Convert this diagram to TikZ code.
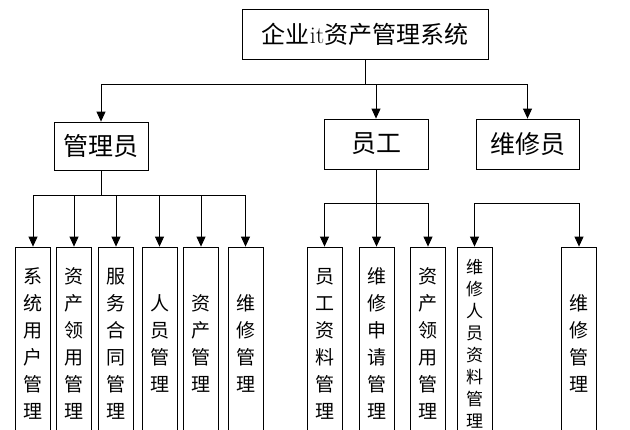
\documentclass[tikz,border=0pt]{standalone}
\usepackage{fontspec}
\newfontfamily\cjk{Noto Sans CJK SC}
\usetikzlibrary{arrows.meta}

\begin{document}
\begin{tikzpicture}[x=1pt, y=-1pt, >={Triangle[width=9pt,length=10pt]},
  box/.style={draw, line width=0.8pt, inner sep=0pt, font=\cjk},
  leaf/.style={box, minimum width=35pt, minimum height=193pt, align=center,
    font=\cjk\fontsize{19}{27}\selectfont},
  link/.style={line width=0.8pt}]
  \useasboundingbox (0,0) rectangle (630,429);
  \clip (0,0) rectangle (630,429);

  % top level
  \node[box, minimum width=246pt, minimum height=50pt, font=\cjk\fontsize{24}{28}\selectfont]
    (sys) at (365,34) {企业{\rmfamily it}资产管理系统};

  % roles
  \node[box, minimum width=94pt, minimum height=48pt, font=\cjk\fontsize{25}{28}\selectfont]
    (admin) at (101,146) {管理员};
  \node[box, minimum width=104pt, minimum height=50pt, font=\cjk\fontsize{25}{28}\selectfont]
    (staff) at (376,144) {员工};
  \node[box, minimum width=103pt, minimum height=50pt, font=\cjk\fontsize{25}{28}\selectfont]
    (repairer) at (527.5,144) {维修员};

  \draw[link] (sys.south) -- (sys.south |- 0,84);
  \draw[link] (admin.north |- 0,84) -- (repairer.north |- 0,84);
  \foreach \n in {admin,staff,repairer}
    \draw[link,->] (\n.north |- 0,84) -- (\n.north);

  % admin functions
  \foreach \x/\name/\txt in {33/a1/{系\\统\\用\\户\\管\\理}, 74/a2/{资\\产\\领\\用\\管\\理},
      116/a3/{服\\务\\合\\同\\管\\理}, 159.5/a4/{人\\员\\管\\理},
      201/a5/{资\\产\\管\\理}, 245.5/a6/{维\\修\\管\\理}}
    \node[leaf] (\name) at (\x,343.5) {\txt};

  \draw[link] (admin.south) -- (admin.south |- 0,195);
  \draw[link] (a1.north |- 0,195) -- (a6.north |- 0,195);
  \foreach \name in {a1,a2,a3,a4,a5,a6}
    \draw[link,->] (\name.north |- 0,195) -- (\name.north);

  % staff functions
  \foreach \x/\name/\txt in {324.5/s1/{员\\工\\资\\料\\管\\理}, 376.5/s2/{维\\修\\申\\请\\管\\理},
      428/s3/{资\\产\\领\\用\\管\\理}}
    \node[leaf] (\name) at (\x,343.5) {\txt};

  \draw[link] (staff.south) -- (staff.south |- 0,203);
  \draw[link] (s1.north |- 0,203) -- (s3.north |- 0,203);
  \foreach \name in {s1,s2,s3}
    \draw[link,->] (\name.north |- 0,203) -- (\name.north);

  % repairer functions
  \node[leaf, font=\cjk\fontsize{17}{22}\selectfont] (r1) at (474.5,343.5)
    {维\\修\\人\\员\\资\\料\\管\\理};
  \node[leaf] (r2) at (579,343.5) {维\\修\\管\\理};

  \draw[link] (r1.north |- 0,203) -- (r2.north |- 0,203);
  \foreach \name in {r1,r2}
    \draw[link,->] (\name.north |- 0,203) -- (\name.north);
\end{tikzpicture}
\end{document}
